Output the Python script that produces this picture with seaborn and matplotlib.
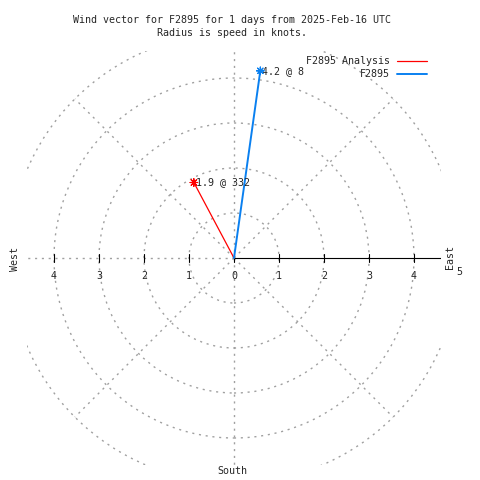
import numpy as np
import pandas as pd
import matplotlib
matplotlib.use("Agg")
import matplotlib.pyplot as plt
import seaborn as sns
from matplotlib.patches import Circle

# ---- data ----
series = ["F2895 Analysis", "F2895"]
speeds = [1.9, 4.2]
directions = [332, 8]
point_labels = ["1.9 @ 332", "4.2 @ 8"]
ring_radii = [1, 2, 3, 4, 5]
spoke_angles = [0, 45, 135, 180, 225, 270, 315]
tick_values = [-4, -3, -2, -1, 0, 1, 2, 3, 4]
tick_labels = ["4", "3", "2", "1", "0", "1", "2", "3", "4"]
title_lines = ["Wind vector for F2895 for 1 days from 2025-Feb-16 UTC",
               "Radius is speed in knots."]

sns.set_theme(style="white")
plt.rcParams['font.family'] = ['DejaVu Sans Mono', 'DejaVu Sans']
FS = 7.2
GRAY = "#a0a0a0"
DASH = (0, (1.5, 3.4))
palette = {"F2895 Analysis": "#ff0000", "F2895": "#0a80f0"}
widths = {"F2895 Analysis": 0.9, "F2895": 1.4}

rad = np.deg2rad(directions)
tip_x = np.array(speeds) * np.sin(rad)
tip_y = np.array(speeds) * np.cos(rad)
rows = []
for s, x, y in zip(series, tip_x, tip_y):
    rows.append({"series": s, "x": 0.0, "y": 0.0, "end": 0})
    rows.append({"series": s, "x": x, "y": y, "end": 1})
df = pd.DataFrame(rows)
tips = df[df.end == 1]

fig = plt.figure(figsize=(4.8, 4.8), dpi=100)
ax = fig.add_axes([27 / 480, 15 / 480, 414 / 480, 414 / 480])
ax.set_xlim(-4.6, 4.6)
ax.set_ylim(-4.6, 4.6)
ax.set_axis_off()

# grid rings
for r in ring_radii:
    ax.add_patch(Circle((0, 0), r, fill=False, ec=GRAY, lw=1.0, ls=DASH))
# spokes
for a in spoke_angles:
    ar = np.deg2rad(a)
    ax.plot([0, 5 * np.sin(ar)], [0, 5 * np.cos(ar)], color=GRAY, lw=1.0, ls=DASH)
# east axis (solid black)
ax.plot([0, 5], [0, 0], color="black", lw=0.8)
# tick marks and labels
tk = 4 / 45
for t, lab in zip(tick_values, tick_labels):
    ax.plot([t, t], [-tk, tk], color="black", lw=0.8)
    ax.text(t, -0.4, lab, ha="center", va="center", fontsize=FS)
ax.text(5, -0.31, "5", ha="center", va="center", fontsize=FS, clip_on=False)

# vectors
handles = []
for s in series:
    sub = df[df.series == s]
    sns.lineplot(data=sub, x="x", y="y", color=palette[s], lw=widths[s],
                 estimator=None, sort=False, ax=ax, label=s, legend=False)
    handles.append(ax.lines[-1])
sns.scatterplot(data=tips, x="x", y="y", hue="series", palette=palette,
                marker=(8, 2, 0), s=30, linewidth=0.8, legend=False, ax=ax,
                zorder=5)
ax.set_axis_off()
for x, y, lab in zip(tip_x, tip_y, point_labels):
    ax.text(x + 0.04, y, lab, ha="left", va="center", fontsize=FS)

ax.legend(handles, series, loc="upper right",
          bbox_to_anchor=(427 / 480, 1 - 56 / 480), bbox_transform=fig.transFigure,
          frameon=False, markerfirst=False, handlelength=3.0, handletextpad=0.7,
          labelspacing=0.3, borderpad=0, borderaxespad=0, fontsize=FS)

# titles & compass labels
fig.text(232 / 480, 1 - 20 / 480, title_lines[0], ha="center", va="center", fontsize=FS)
fig.text(232 / 480, 1 - 33 / 480, title_lines[1], ha="center", va="center", fontsize=FS)
fig.text(15 / 480, 1 - 259 / 480, "West", rotation=90, ha="center", va="center", fontsize=FS)
fig.text(450 / 480, 1 - 257 / 480, "East", rotation=90, ha="center", va="center", fontsize=FS)
fig.text(232 / 480, 1 - 471 / 480, "South", ha="center", va="center", fontsize=FS)

fig.savefig("out.png", dpi=100, facecolor="white")
